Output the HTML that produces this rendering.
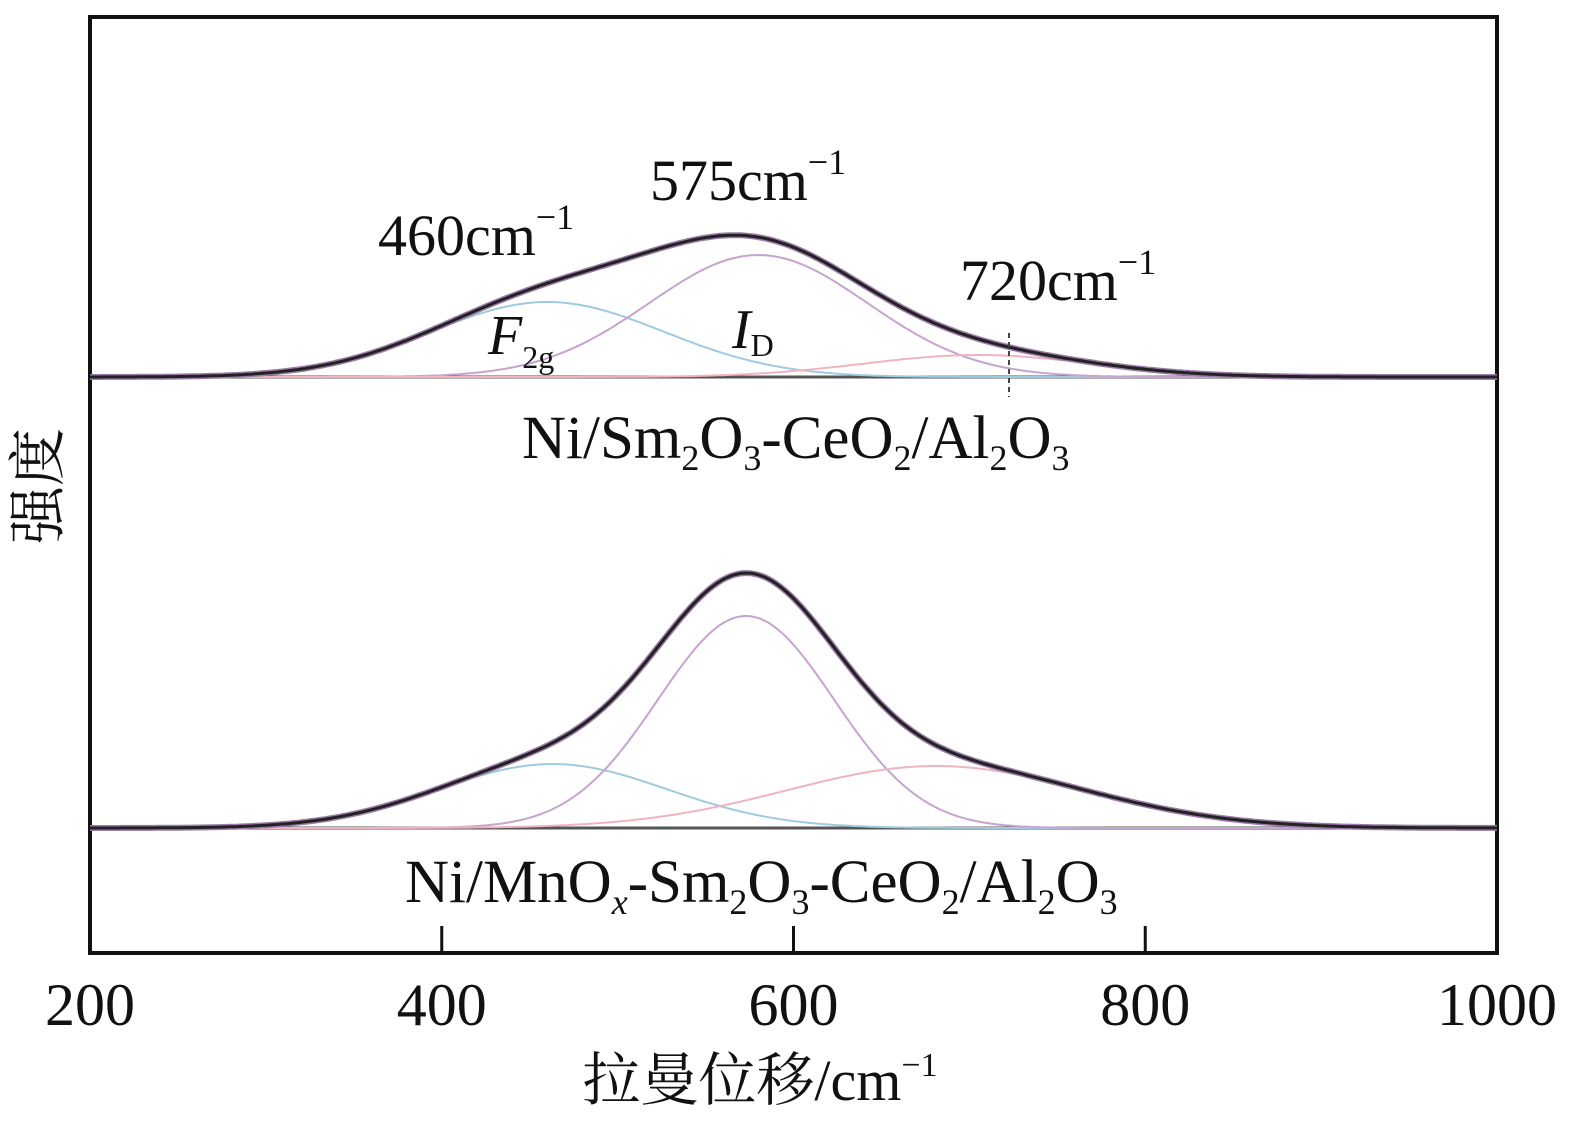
<!DOCTYPE html>
<html><head><meta charset="utf-8">
<style>
html,body{margin:0;padding:0;background:#fff;}
svg{display:block;}
text{font-family:"Liberation Serif","Noto Serif CJK SC",serif;fill:#111;}
</style></head>
<body>
<svg id="chart" width="1577" height="1123" viewBox="0 0 1577 1123" xmlns="http://www.w3.org/2000/svg">
  <rect x="90" y="17" width="1407" height="936" fill="none" stroke="#111" stroke-width="4"/>
  <g id="ticks"></g>
  <g id="series"></g>
  <text x="760" y="1100" font-size="58" text-anchor="middle">拉曼位移/cm<tspan font-size="34" dy="-24">−1</tspan></text>
  <text transform="translate(58,486) rotate(-90)" font-size="58" text-anchor="middle">强度</text>
  <text x="378" y="255" font-size="58">460cm<tspan font-size="36" dy="-26">−1</tspan></text>
  <text x="650" y="200" font-size="58">575cm<tspan font-size="36" dy="-26">−1</tspan></text>
  <text x="960" y="300" font-size="58">720cm<tspan font-size="36" dy="-26">−1</tspan></text>
  <text x="488" y="354" font-size="56" font-style="italic">F<tspan font-style="normal" font-size="32" dy="14">2g</tspan></text>
  <text x="732" y="348" font-size="56" font-style="italic">I<tspan font-style="normal" font-size="32" dy="8">D</tspan></text>
  <line x1="1009" y1="333" x2="1009" y2="397" stroke="#444" stroke-width="2" stroke-dasharray="5,4"/>
  <text x="522" y="458" font-size="61">Ni/Sm<tspan font-size="36" dy="12">2</tspan><tspan dy="-12">O</tspan><tspan font-size="36" dy="12">3</tspan><tspan dy="-12">-CeO</tspan><tspan font-size="36" dy="12">2</tspan><tspan dy="-12">/Al</tspan><tspan font-size="36" dy="12">2</tspan><tspan dy="-12">O</tspan><tspan font-size="36" dy="12">3</tspan></text>
  <text x="405" y="902" font-size="61">Ni/MnO<tspan font-size="36" dy="12" font-style="italic">x</tspan><tspan dy="-12">-Sm</tspan><tspan font-size="36" dy="12">2</tspan><tspan dy="-12">O</tspan><tspan font-size="36" dy="12">3</tspan><tspan dy="-12">-CeO</tspan><tspan font-size="36" dy="12">2</tspan><tspan dy="-12">/Al</tspan><tspan font-size="36" dy="12">2</tspan><tspan dy="-12">O</tspan><tspan font-size="36" dy="12">3</tspan></text>
</svg>
<script>
const xTicks = [200, 400, 600, 800, 1000];
const topCenters = [460, 580, 705];
const topHeights = [75, 122, 22];
const topWidths = [66, 62, 65];
const botCenters = [463, 573, 681];
const botHeights = [64, 212, 62];
const botWidths = [65, 50, 85];
const compColors = ['#9fcbe0', '#c7a3cf', '#f0b4c0'];

const NS = 'http://www.w3.org/2000/svg';
const X0 = 90, X1 = 1497, D0 = 200, D1 = 1000;
function xs(v){ return X0 + (v - D0) * (X1 - X0) / (D1 - D0); }
function ys(v, base){ return base - v; }
function gauss(x, c, h, w){ return h * Math.exp(-((x - c) ** 2) / (2 * w * w)); }

const tg = document.getElementById('ticks');
xTicks.forEach(t => {
  if (t !== 200 && t !== 1000) {
    const l = document.createElementNS(NS, 'line');
    
    
    l.setAttribute('x1', xs(t)); l.setAttribute('x2', xs(t));
    l.setAttribute('y1', 953); l.setAttribute('y2', 926);
    l.setAttribute('stroke', '#111'); l.setAttribute('stroke-width', 3);
    tg.appendChild(l);
  }
  const tx = document.createElementNS(NS, 'text');
  
  
  tx.setAttribute('x', xs(t)); tx.setAttribute('y', 1025);
  tx.setAttribute('font-size', 60); tx.setAttribute('text-anchor', 'middle');
  tx.textContent = t;
  tg.appendChild(tx);
});

const sg = document.getElementById('series');
function path(d, color, width, name){
  const p = document.createElementNS(NS, 'path');
  
  
  p.setAttribute('d', d); p.setAttribute('fill', 'none');
  p.setAttribute('stroke', color); p.setAttribute('stroke-width', width);
  sg.appendChild(p);
}
function drawPanel(centers, heights, widths, base, tag){
  path('M' + X0 + ',' + base + 'L' + X1 + ',' + base, '#555', 3, tag + '-baseline');
  centers.forEach((c, i) => {
    let d = '';
    for (let x = D0; x <= D1; x += 2) {
      d += (d ? 'L' : 'M') + xs(x).toFixed(1) + ',' + ys(gauss(x, c, heights[i], widths[i]), base).toFixed(1);
    }
    path(d, compColors[i], 2, tag + '-component-' + i);
  });
  let d = '';
  for (let x = D0; x <= D1; x += 2) {
    let s = 0;
    centers.forEach((c, i) => { s += gauss(x, c, heights[i], widths[i]); });
    d += (d ? 'L' : 'M') + xs(x).toFixed(1) + ',' + ys(s, base).toFixed(1);
  }
  path(d, '#9a7aa8', 6, tag + '-data');
  path(d, '#222', 3, tag + '-fit-envelope');
}
drawPanel(topCenters, topHeights, topWidths, 377, 'top');
drawPanel(botCenters, botHeights, botWidths, 828, 'bottom');
</script>
</body></html>
